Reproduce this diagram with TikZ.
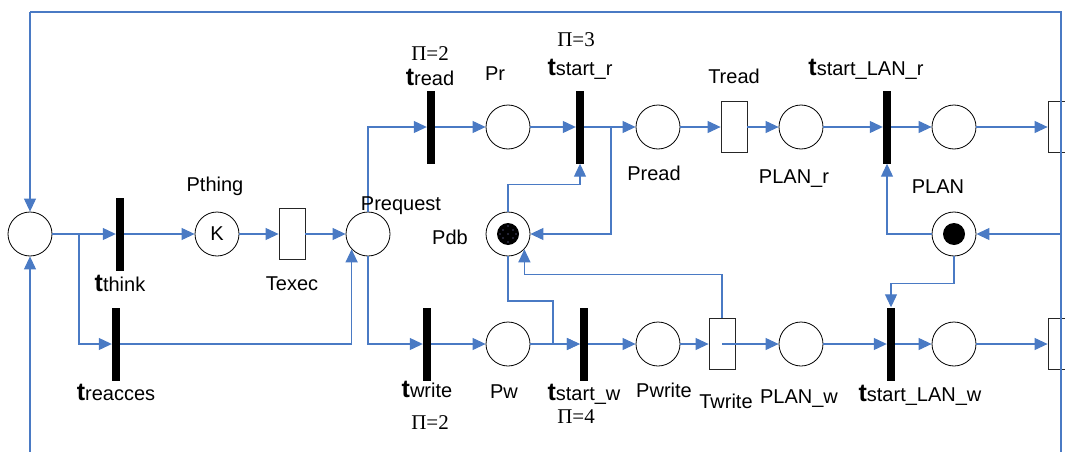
\documentclass[tikz,border=0pt]{standalone}
\usepackage{fontspec}
\setmainfont{Liberation Sans}
\newfontfamily\tmsfont{Liberation Serif}
\usetikzlibrary{arrows.meta,calc}
\definecolor{linkblue}{RGB}{74,122,196}
\newcommand\tlab[1]{{\fontsize{25}{25}\selectfont\bfseries t}#1}
\begin{document}
\begin{tikzpicture}[x=1pt,y=-1pt,
  place/.style={circle,draw=black,line width=0.8pt,minimum size=44pt,inner sep=0pt,fill=white},
  bar/.style={fill=black,minimum width=8pt,minimum height=73pt,inner sep=0pt},
  tbox/.style={draw=black!85,line width=0.8pt,fill=white,minimum width=26pt,minimum height=51pt,inner sep=0pt},
  obox/.style={draw=black!85,line width=0.8pt,minimum width=30pt,minimum height=51pt,inner sep=0pt},
  arc/.style={draw=linkblue,line width=1.1pt,-{Triangle[length=13pt,width=12pt]}},
  wire/.style={draw=linkblue,line width=1.1pt},
  lbl/.style={font=\fontsize{20}{20}\selectfont,inner sep=0pt,anchor=base},
  pilbl/.style={font=\tmsfont\fontsize{21}{21}\selectfont,inner sep=0pt,anchor=base}]
\useasboundingbox (0,0) rectangle (1065,452);
\clip (0,0) rectangle (1065,452);

% places
\node[place] (P0) at (30,234) {};
\node[place,font=\fontsize{20}{20}\selectfont] (Pthing) at (217,234) {K};
\node[place] (Prequest) at (368,234) {};
\node[place] (Pr) at (508,127) {};
\node[place] (Pread) at (658,127) {};
\node[place] (Pdb) at (508,234) {};
\node[place] (Pw) at (508,344) {};
\node[place] (Pwrite) at (658,344) {};
\node[place] (PLANr) at (801,127) {};
\node[place] (PLANw) at (801,344) {};
\node[place] (Pr2) at (954,127) {};
\node[place] (Pw2) at (954,344) {};
\node[place] (PLAN) at (954,234) {};
% tokens
\fill[black] (Pdb.center) circle (11pt);
\foreach \dx/\dy in {0/0,-5/-4,5/-4,-5/4,5/4,0/-8,0/8,-8/0,8/0}
  \fill[black!25!blue!40] ($(Pdb.center)+(\dx,\dy)$) circle (0.7pt);
\fill[black] (PLAN.center) circle (11pt);

% transitions
\node[bar] (tthink) at (120,234) {};
\node[bar] (treacces) at (116,344) {};
\node[bar] (tread) at (431,127) {};
\node[bar] (twrite) at (427,344) {};
\node[bar] (tstartr) at (580,127) {};
\node[bar] (tstartw) at (584,344) {};
\node[bar] (tlanr) at (887,127) {};
\node[bar] (tlanw) at (891,344) {};
\node[tbox] (Texec) at (292,234) {};
\node[tbox] (Tread) at (734,127) {};
\node[tbox] (Twrite) at (722,344) {};
\node[obox] (Rr) at (1063,127) {};
\node[obox] (Rw) at (1063,344) {};

% frame wires
\coordinate (lt) at (30,12);
\coordinate (lb) at (30,452);
\coordinate (rt) at (1061,12);
\coordinate (rb) at (1061,452);
\coordinate (rm) at (1061,234);
\draw[wire] (rb) -- (rt) -- (lt);
\draw[arc] (lt) -- (P0.north);
\draw[arc] (lb) -- (P0.south);
\draw[arc] (rm) -- (PLAN.east);

% arcs
\coordinate (br) at (79,234);
\draw[arc] (P0.east) -- (tthink.west);
\draw[arc] (br) |- (treacces.west);
\draw[arc] (tthink.east) -- (Pthing.west);
\draw[arc] (Pthing.east) -- (Texec.west);
\draw[arc] (Texec.east) -- (Prequest.west);
\draw[arc] (treacces.east) -| (Prequest.223);
\draw[arc] (Prequest.north) |- (tread.west);
\draw[arc] (Prequest.south) |- (twrite.west);
\draw[arc] (tread.east) -- (Pr.west);
\draw[arc] (Pr.east) -- (tstartr.west);
\draw[arc] (tstartr.east) -- (Pread.west);
\coordinate (j1) at (611,127);
\draw[arc] (j1) |- (Pdb.east);
\draw[arc] (Pdb.north) -- ++(0,-27) -| (tstartr.south);
\draw[arc] (Pdb.south) |- (553,301) |- (tstartw.west);
\draw[arc] (twrite.east) -- (Pw.west);
\draw[arc] (Pw.east) -- (tstartw.west);
\draw[arc] (tstartw.east) -- (Pwrite.west);
\draw[arc] (Pwrite.east) -- (Twrite.west);
\draw[arc] (Twrite.north) -- ++(0,-44) -| (Pdb.317);
\draw[arc] (Twrite.center) -- (PLANw.west);
\draw[arc] (Pread.east) -- (Tread.west);
\draw[arc] (Tread.east) -- (PLANr.west);
\draw[arc] (PLANr.east) -- (tlanr.west);
\draw[arc] (tlanr.east) -- (Pr2.west);
\draw[arc] (Pr2.east) -- (Rr.west);
\draw[arc] (PLANw.east) -- (tlanw.west);
\draw[arc] (tlanw.east) -- (Pw2.west);
\draw[arc] (Pw2.east) -- (Rw.west);
\draw[arc] (PLAN.west) -| (tlanr.south);
\draw[arc] (PLAN.south) -- ++(0,27) -| (tlanw.north);

% labels
\node[lbl] (lPthing) at (215,191) {Pthing};
\node[lbl] (lTexec) at (292,290) {Texec};
\node[lbl] (ltthink) at (120,291) {\tlab{think}};
\node[lbl] (ltreacces) at (116,400) {\tlab{reacces}};
\node[lbl] (lPrequest) at (401,210) {Prequest};
\node[pilbl] (lpi1) at (430,60) {Π=2};
\node[lbl] (ltread) at (430,85) {\tlab{read}};
\node[lbl] (lPr) at (495,81) {Pr};
\node[pilbl] (lpi2) at (576,47) {Π=3};
\node[lbl] (ltstartr) at (580,75) {\tlab{start\_r}};
\node[lbl] (lPread) at (654,180) {Pread};
\node[lbl] (lPdb) at (450,244) {Pdb};
\node[lbl] (ltwrite) at (427,397) {\tlab{write}};
\node[pilbl] (lpi3) at (430,429) {Π=2};
\node[lbl] (lPw) at (504,398) {Pw};
\node[lbl] (ltstartw) at (584,400) {\tlab{start\_w}};
\node[pilbl] (lpi4) at (576,423) {Π=4};
\node[lbl] (lPwrite) at (664,397) {Pwrite};
\node[lbl] (lTread) at (734,83) {Tread};
\node[lbl] (ltlanr) at (866,75) {\tlab{start\_LAN\_r}};
\node[lbl] (lPLANr) at (794,183) {PLAN\_r};
\node[lbl] (lPLAN) at (938,193) {PLAN};
\node[lbl] (lTwrite) at (726,408) {Twrite};
\node[lbl] (lPLANw) at (799,403) {PLAN\_w};
\node[lbl] (ltlanw) at (920,401) {\tlab{start\_LAN\_w}};
\end{tikzpicture}
\end{document}
